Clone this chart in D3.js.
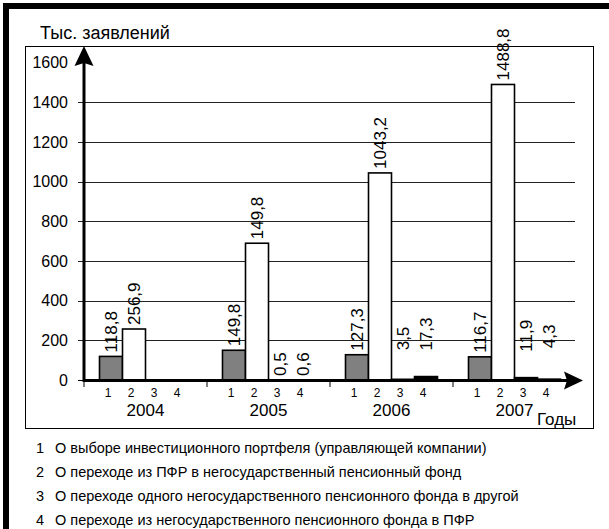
<!DOCTYPE html>
<html><head><meta charset="utf-8">
<script src="https://cdn.jsdelivr.net/npm/d3@7"></script>
<style>
html,body{margin:0;padding:0;background:#fff;}
svg{display:block;font-family:Arial,"Liberation Sans",sans-serif;}
</style></head>
<body>
<svg id="chart" width="609" height="529"></svg>
<script>
// ---- data ----
const years = ["2004", "2005", "2006", "2007"];
const seriesKeys = ["1", "2", "3", "4"];
const series1 = [118.8, 149.8, 127.3, 116.7];
const series2 = [256.9, 689.0, 1043.2, 1488.8];
const series3 = [0, 0.5, 3.5, 11.9];
const series4 = [0, 0.6, 17.3, 4.3];
const labels1 = ["118,8", "149,8", "127,3", "116,7"];
const labels2 = ["256,9", "149,8", "1043,2", "1488,8"];
const labels3 = ["", "0,5", "3,5", "11,9"];
const labels4 = ["", "0,6", "17,3", "4,3"];
const yTicks = [0, 200, 400, 600, 800, 1000, 1200, 1400, 1600];
const legendItems = [
  "О выборе инвестиционного портфеля (управляющей компании)",
  "О переходе из ПФР в негосударственный пенсионный фонд",
  "О переходе одного негосударственного пенсионного фонда в другой",
  "О переходе из негосударственного пенсионного фонда в ПФР"
];
const yTitle = "Тыс. заявлений";
const xTitle = "Годы";

// ---- build ----
const allValues = [series1, series2, series3, series4];
const allLabels = [labels1, labels2, labels3, labels4];
const fills = ["#808080", "#ffffff", "#000000", "#000000"];

const svg = d3.select("#chart");

// outer frame (thick top + left)
svg.append("rect").attr("x", 3).attr("y", 3).attr("width", 606).attr("height", 6).attr("fill", "#000");
svg.append("rect").attr("x", 3).attr("y", 3).attr("width", 6).attr("height", 526).attr("fill", "#000");
// inner frame
svg.append("rect").attr("x", 25.5).attr("y", 46.5).attr("width", 568).attr("height", 382)
  .attr("fill", "none").attr("stroke", "#000").attr("stroke-width", 1);

const x0 = d3.scaleBand().domain(years).range([84, 576]);
const x1 = d3.scaleBand().domain(seriesKeys).range([15.5, 107.5]);
const y = d3.scaleLinear().domain([0, 1600]).range([380, 62.4]);

// gridlines
svg.append("g").selectAll("line").data(yTicks.filter(t => t > 0 && t < 1600)).join("line")
  .attr("x1", 78).attr("x2", 575).attr("y1", d => Math.round(y(d)) + 0.5).attr("y2", d => Math.round(y(d)) + 0.5)
  .attr("stroke", "#222").attr("stroke-width", 1);
// zero tick
svg.append("line").attr("x1", 78).attr("x2", 84).attr("y1", y(0) + 0.5).attr("y2", y(0) + 0.5).attr("stroke", "#000");

// y tick labels
svg.append("g").selectAll("text").data(yTicks).join("text")
  .attr("x", 68).attr("y", d => y(d)).attr("dy", "0.36em")
  .attr("text-anchor", "end").attr("font-size", 16).attr("fill", "#000")
  .text(d => d);

// bars
const groups = svg.append("g").selectAll("g").data(years).join("g")
  .attr("transform", d => `translate(${x0(d)},0)`);

groups.each(function(yr, i) {
  const g = d3.select(this);
  seriesKeys.forEach((s, j) => {
    const v = allValues[j][i];
    if (v > 0) {
      g.append("rect")
        .attr("x", x1(s)).attr("width", x1.bandwidth())
        .attr("y", y(v)).attr("height", y(0) - y(v))
        .attr("fill", fills[j]).attr("stroke", "#000").attr("stroke-width", 1.6);
    }
  });
});

// x axis
svg.append("line").attr("x1", 84).attr("x2", 568).attr("y1", 380.5).attr("y2", 380.5)
  .attr("stroke", "#000").attr("stroke-width", 3);
svg.append("path").attr("d", "M583,380.5 L564,371.5 L567,380.5 L564,389.5 Z").attr("fill", "#000");
// y axis
svg.append("line").attr("x1", 84).attr("x2", 84).attr("y1", 382).attr("y2", 62)
  .attr("stroke", "#000").attr("stroke-width", 3);
svg.append("path").attr("d", "M84,46 L74.5,66 L84,63 L93.5,66 Z").attr("fill", "#000");

// group boundary ticks
svg.append("g").selectAll("line").data(years).join("line")
  .attr("x1", d => x0(d)).attr("x2", d => x0(d)).attr("y1", 381).attr("y2", 387)
  .attr("stroke", "#000").attr("stroke-width", 1);

// value labels
const labelLift = { "2006-3": 25, "2006-4": 22, "2007-3": 22, "2007-4": 27 };
groups.each(function(yr, i) {
  const g = d3.select(this);
  seriesKeys.forEach((s, j) => {
    const lab = allLabels[j][i];
    if (!lab) return;
    const v = allValues[j][i];
    const cx = x1(s) + x1.bandwidth() / 2;
    const by = y(v) - 4 - (labelLift[yr + "-" + s] || 0);
    g.append("text")
      .attr("transform", `translate(${cx},${by}) rotate(-90)`)
      .attr("dy", "0.36em").attr("font-size", 17).attr("fill", "#000")
      .text(lab);
  });
});

// series sub-labels under axis
groups.each(function(yr) {
  d3.select(this).selectAll("text.sub").data(seriesKeys).join("text").attr("class", "sub")
    .attr("x", d => x1(d) + x1.bandwidth() / 2 - 3).attr("y", 397)
    .attr("text-anchor", "middle").attr("font-size", 12).attr("fill", "#000")
    .text(d => d);
});

// year labels
svg.append("g").selectAll("text").data(years).join("text")
  .attr("x", d => x0(d) + x0.bandwidth() / 2).attr("y", 416)
  .attr("text-anchor", "middle").attr("font-size", 17).attr("fill", "#000")
  .text(d => d);

// axis titles
svg.append("text").attr("x", 40).attr("y", 39).attr("font-size", 18).attr("fill", "#000").text(yTitle);
svg.append("text").attr("x", 537).attr("y", 425).attr("font-size", 17).attr("fill", "#000").text(xTitle);

// legend
const leg = svg.append("g").selectAll("g").data(legendItems).join("g")
  .attr("transform", (d, i) => `translate(0,${453 + i * 24})`);
leg.append("text").attr("x", 36).attr("font-size", 14.5).attr("fill", "#000").text((d, i) => seriesKeys[i]);
leg.append("text").attr("x", 55).attr("font-size", 14.5).attr("fill", "#000").text(d => d);
</script>
</body></html>
